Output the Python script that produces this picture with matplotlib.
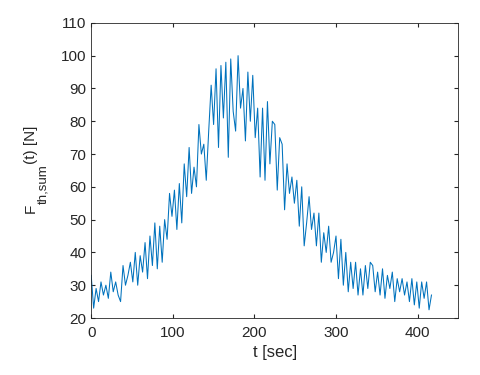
import numpy as np
import matplotlib
matplotlib.use('Agg')
import matplotlib.pyplot as plt

plt.rcParams['font.family'] = ['Liberation Sans', 'DejaVu Sans']

# 시간축 (3초 간격)
t = np.arange(0, 418, 3)

# 그림에서 읽은 값
F_sum = [
    33, 23, 29, 25, 31, 27, 30, 26, 34, 28,
    31, 27, 25, 36, 30, 33, 37, 31, 40, 30,
    39, 34, 43, 32, 45, 36, 49, 35, 48, 37,
    50, 44, 58, 51, 59, 47, 61, 49, 67, 57,
    72, 58, 66, 60, 79, 70, 73, 62, 77, 91,
    79, 96, 72, 97, 81, 98, 69, 99, 83, 77,
    100, 84, 90, 74, 95, 80, 94, 75, 84, 63,
    84, 62, 86, 67, 80, 79, 59, 75, 73, 53,
    67, 58, 63, 55, 62, 48, 60, 42, 49, 57,
    47, 52, 42, 52, 37, 46, 40, 48, 37, 40,
    45, 32, 44, 30, 40, 28, 37, 29, 37, 27,
    35, 27, 36, 29, 37, 36, 28, 34, 27, 35,
    26, 33, 29, 34, 25, 32, 28, 32, 27, 31,
    25, 32, 24, 31, 23, 31, 26, 31, 22.5, 27,
]

W, H = 480, 375
fig = plt.figure(figsize=(W / 100, H / 100), dpi=100)
ax = fig.add_axes([0.19, 0.152, 0.765, 0.787])

ax.plot(t, F_sum, color='#0072BD', linewidth=0.75)

ax.set_xlim(0, 450)
ax.set_ylim(20, 110)
ax.set_xticks([0, 100, 200, 300, 400])
ax.set_yticks(np.arange(20, 111, 10))

ax.tick_params(direction='in', top=True, right=True, length=3,
               labelsize=11, colors='#262626')
ax.tick_params(axis='x', pad=6)
for s in ax.spines.values():
    s.set_color('#262626')
    s.set_linewidth(0.6)

ax.set_xlabel('t [sec]', fontsize=12, color='#262626', labelpad=3)

# y축 라벨: MATLAB식 큰 아래첨자를 조각으로 이어 붙임
def px(x, y):
    return x / W, 1 - y / H

kw = dict(rotation=90, rotation_mode='anchor', ha='left', va='baseline',
          color='#262626')
fig.canvas.draw()
r = fig.canvas.get_renderer()
y0 = 213
t1 = fig.text(*px(35, y0), 'F', fontsize=11, **kw)
y0 -= t1.get_window_extent(r).height
t2 = fig.text(*px(46, y0), 'th,sum', fontsize=9.5, **kw)
y0 -= t2.get_window_extent(r).height
fig.text(*px(35, y0), '(t) [N]', fontsize=11, **kw)

plt.savefig('out.png', dpi=100)
